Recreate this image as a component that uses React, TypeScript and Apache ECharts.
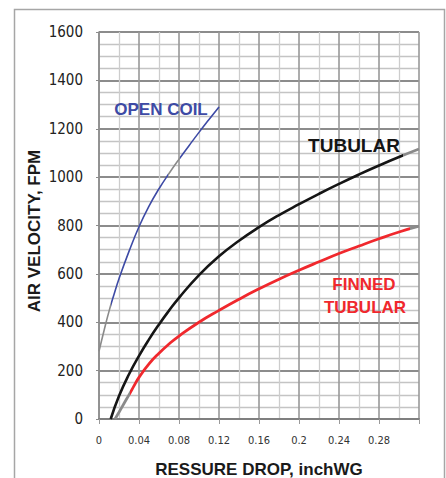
import React, { useEffect, useRef } from "react";
import * as echarts from "echarts";

// X axis: pressure drop (inchWG); Y axis: air velocity (FPM)
const xTickValues = [0, 0.04, 0.08, 0.12, 0.16, 0.2, 0.24, 0.28];

const openCoilX = [0, 0.005, 0.01, 0.015, 0.02, 0.03, 0.04, 0.05, 0.06, 0.07, 0.08, 0.09, 0.1, 0.11, 0.12];
const openCoilY = [280, 365, 445, 515, 580, 693, 795, 880, 952, 1015, 1074, 1130, 1185, 1238, 1290];

const tubularX = [0.0117, 0.02, 0.03, 0.04, 0.05, 0.06, 0.07, 0.08, 0.1, 0.12, 0.14, 0.16, 0.18, 0.2, 0.22, 0.24, 0.26, 0.28, 0.3, 0.32];
const tubularY = [0, 95, 185, 261, 329, 391, 448, 501, 595, 673, 737, 793, 843, 888, 931, 972, 1011, 1048, 1083, 1116];

const finnedX = [0.016, 0.02, 0.025, 0.031, 0.035, 0.04, 0.05, 0.06, 0.07, 0.08, 0.1, 0.12, 0.14, 0.16, 0.18, 0.2, 0.22, 0.24, 0.26, 0.28, 0.3, 0.32];
const finnedY = [0, 28, 64, 107, 137, 172, 228, 272, 310, 343, 400, 449, 495, 538, 578, 615, 650, 684, 715, 745, 773, 797];

// x-ranges where the underlying grey line shows instead of the series colour
const openCoilGrey = [[0, 0.012], [0.069, 0.081]];
const tubularGrey = [[0.304, 0.32]];
const finnedGrey = [[0.016, 0.031], [0.311, 0.32]];

const zip = (xs: number[], ys: number[]) => xs.map((x, i) => [x, ys[i]]);

const GRAY = "#8a8a8a";
const BLUE = "#3d4aa5";
const BLACK = "#151515";
const RED = "#f0282d";
const TITLE_FONT = "'Liberation Sans', Arial, sans-serif";
const TICK_FONT = "'Liberation Sans Narrow', 'DejaVu Sans Condensed', 'Arial Narrow', 'Liberation Sans', sans-serif";

function segGradient(xs: number[], greys: number[][], color: string) {
  const x0 = xs[0];
  const span = xs[xs.length - 1] - x0;
  const f = (x: number) => Math.min(1, Math.max(0, (x - x0) / span));
  const stops: { offset: number; color: string }[] = [];
  let pos = 0;
  greys.forEach(([a, b]) => {
    const fa = f(a);
    const fb = f(b);
    if (fa > pos) {
      stops.push({ offset: pos, color });
      stops.push({ offset: fa, color });
    }
    stops.push({ offset: fa, color: GRAY });
    stops.push({ offset: fb, color: GRAY });
    pos = fb;
  });
  if (pos < 1) {
    stops.push({ offset: pos, color });
    stops.push({ offset: 1, color });
  }
  return new echarts.graphic.LinearGradient(0, 0, 1, 0, stops);
}

export default function App() {
  const ref = useRef<HTMLDivElement>(null);
  useEffect(() => {
    const chart = echarts.init(ref.current!, null, { renderer: "svg" });
    chart.setOption({
      animation: false,
      backgroundColor: "#ffffff",
      grid: { left: 99, top: 32, width: 320, height: 387, outerBoundsMode: "none", containLabel: false },
      xAxis: {
        type: "value",
        min: 0,
        max: 0.32,
        interval: 0.04,
        name: "RESSURE DROP, inchWG",
        nameLocation: "middle",
        nameGap: 42,
        nameTextStyle: { fontFamily: TITLE_FONT, fontWeight: "bold", fontSize: 17, color: "#1a1a1a" },
        axisLine: { show: true, onZero: false, lineStyle: { color: "#7f7f7f", width: 2 } },
        axisTick: { show: true, length: 5, lineStyle: { color: "#9a9a9a", width: 1 } },
        axisLabel: {
          margin: 16,
          fontFamily: TICK_FONT,
          fontSize: 11,
          color: "#333",
          formatter: (v: number) => {
            const hit = xTickValues.find((t) => Math.abs(t - v) < 1e-6);
            return hit === undefined ? "" : String(hit);
          },
        },
        splitLine: { show: true, lineStyle: { color: "#999999", width: 1.6 } },
        minorTick: { show: false, splitNumber: 2 },
        minorSplitLine: { show: true, lineStyle: { color: "#cdcdcd", width: 1.3 } },
      },
      yAxis: {
        type: "value",
        min: 0,
        max: 1600,
        interval: 200,
        axisLine: { show: true, lineStyle: { color: "#8c8c8c", width: 1.6 } },
        axisTick: { show: true, length: 3, lineStyle: { color: "#8c8c8c" } },
        axisLabel: {
          margin: 16,
          fontFamily: TICK_FONT,
          fontSize: 15,
          color: "#222",
          formatter: (v: number) => String(v),
        },
        splitLine: { show: true, lineStyle: { color: "#8c8c8c", width: 1.8 } },
        minorTick: { show: false, splitNumber: 4 },
        minorSplitLine: { show: true, lineStyle: { color: "#c4c4c4", width: 1.3 } },
      },
      series: [
        {
          name: "OPEN COIL", type: "line", smooth: true, showSymbol: false,
          data: zip(openCoilX, openCoilY),
          lineStyle: { width: 1.6, color: segGradient(openCoilX, openCoilGrey, BLUE) }, z: 3,
        },
        {
          name: "TUBULAR", type: "line", smooth: true, showSymbol: false,
          data: zip(tubularX, tubularY),
          lineStyle: { width: 2.6, color: segGradient(tubularX, tubularGrey, BLACK) }, z: 3,
        },
        {
          name: "FINNED TUBULAR", type: "line", smooth: true, showSymbol: false,
          data: zip(finnedX, finnedY),
          lineStyle: { width: 2.8, color: segGradient(finnedX, finnedGrey, RED) }, z: 3,
        },
      ],
      graphic: [
        { type: "rect", shape: { x: 14.5, y: 9.5, width: 430, height: 520 }, style: { fill: "none", stroke: "#a6a6a6", lineWidth: 1.5 }, z: -1, silent: true },
        {
          type: "text", x: 34, y: 231, rotation: Math.PI / 2,
          style: { text: "AIR VELOCITY, FPM", fill: "#1a1a1a", font: `bold 17px ${TITLE_FONT}`, align: "center", verticalAlign: "middle" },
        },
        {
          type: "text", x: 161, y: 109, z: 10,
          style: { text: "OPEN COIL", fill: BLUE, font: `bold 17px ${TITLE_FONT}`, align: "center", verticalAlign: "middle" },
        },
        {
          type: "text", x: 354, y: 145, z: 10,
          style: { text: "TUBULAR", fill: BLACK, font: `bold 19px ${TITLE_FONT}`, align: "center", verticalAlign: "middle" },
        },
        {
          type: "text", x: 364, y: 284, z: 10,
          style: { text: "FINNED", fill: RED, font: `bold 17px ${TITLE_FONT}`, align: "center", verticalAlign: "middle" },
        },
        {
          type: "text", x: 365, y: 307, z: 10,
          style: { text: "TUBULAR", fill: RED, font: `bold 17px ${TITLE_FONT}`, align: "center", verticalAlign: "middle" },
        },
      ],
    });
    return () => chart.dispose();
  }, []);
  return (
    <div
      ref={ref}
      style={{ position: "fixed", left: 0, top: 0, width: 446, height: 478, background: "#fff" }}
    />
  );
}
